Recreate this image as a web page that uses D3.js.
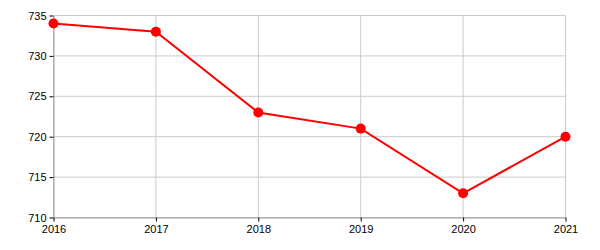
<!DOCTYPE html>
<html><head><meta charset="utf-8">
<script src="https://cdn.jsdelivr.net/npm/d3@7"></script>
<style>body{margin:0;background:#fff}</style>
</head><body>
<svg id="c" width="600" height="250"></svg>
<script>
const years = [2016, 2017, 2018, 2019, 2020, 2021];
const values = [734, 733, 723, 721, 713, 720];
const yTicks = [710, 715, 720, 725, 730, 735];

const svg = d3.select("#c");
const m = {l: 53.5, r: 34.5, t: 15.5, b: 32.5};
const W = 600, H = 250;
const x = d3.scaleLinear().domain([2016, 2021]).range([m.l, W - m.r]);
const y = d3.scaleLinear().domain([710, 735]).range([H - m.b, m.t]);

const g = svg.append("g");
g.selectAll(".hg").data(yTicks).join("line")
  .attr("x1", m.l).attr("x2", W - m.r)
  .attr("y1", d => y(d)).attr("y2", d => y(d))
  .attr("stroke", "#ccc").attr("stroke-width", 1);
g.selectAll(".vg").data(years).join("line")
  .attr("x1", d => x(d)).attr("x2", d => x(d))
  .attr("y1", m.t).attr("y2", H - m.b)
  .attr("stroke", "#ccc").attr("stroke-width", 1);

const xa = svg.append("g").attr("transform", `translate(0,${H - m.b})`)
  .call(d3.axisBottom(x).tickValues(years).tickFormat(d3.format("d")).tickSize(4).tickPadding(4).tickSizeOuter(0));
const ya = svg.append("g").attr("transform", `translate(${m.l},0)`)
  .call(d3.axisLeft(y).tickValues(yTicks).tickSize(4).tickPadding(3).tickSizeOuter(0));
[xa, ya].forEach(a => {
  a.select(".domain").attr("stroke", "#999");
  a.selectAll(".tick line").attr("stroke", "#000");
  a.selectAll("text").attr("font-family", "Liberation Sans, Arial, sans-serif").attr("font-size", 11).attr("fill", "#000");
});

svg.append("path").datum(values)
  .attr("fill", "none").attr("stroke", "#f00").attr("stroke-width", 2)
  .attr("d", d3.line().x((d, i) => x(years[i])).y(d => y(d)));
svg.selectAll(".pt").data(values).join("circle")
  .attr("cx", (d, i) => x(years[i])).attr("cy", d => y(d))
  .attr("r", 5).attr("fill", "#f00");
</script>
</body></html>
